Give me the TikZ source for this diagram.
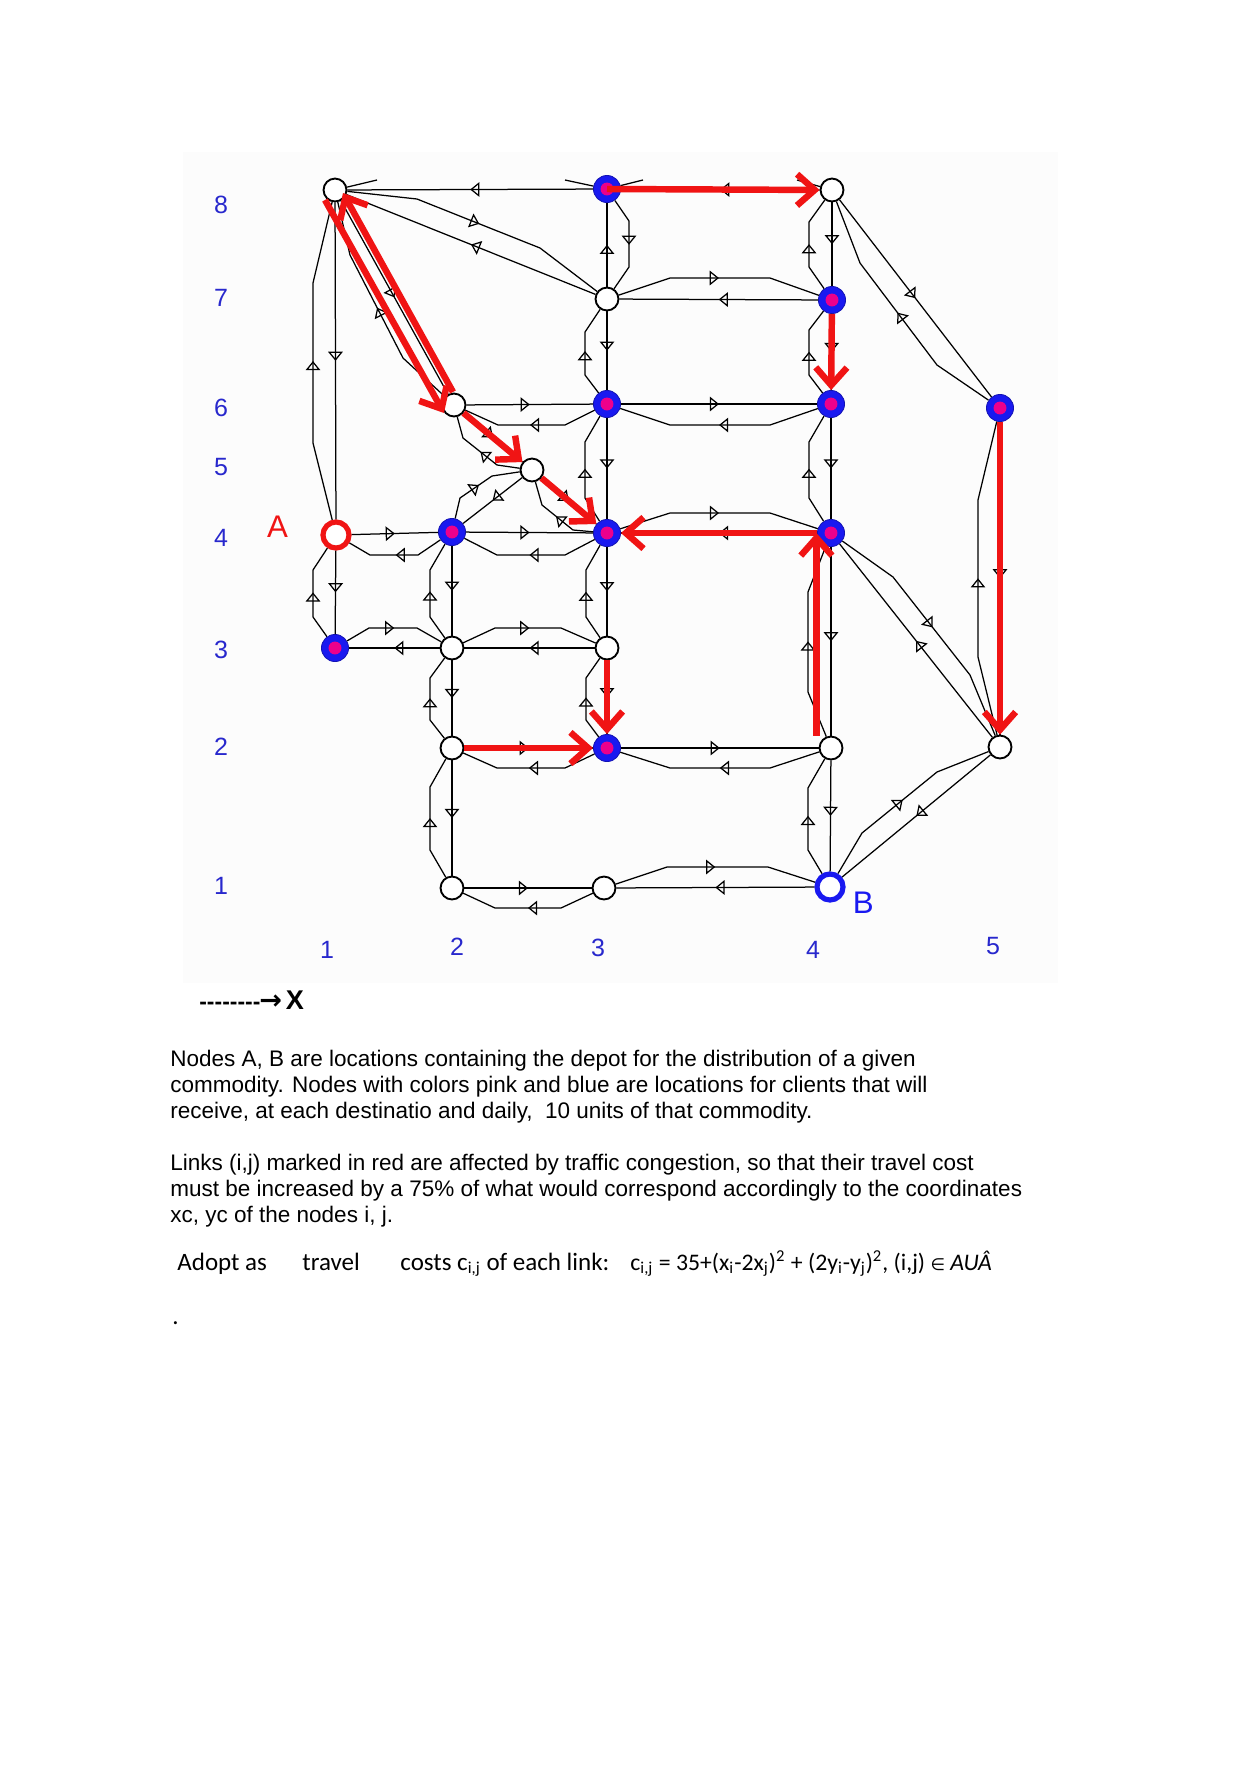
\documentclass[tikz,border=0pt]{standalone}
\usepackage{fontspec}
\setmainfont{Liberation Sans}
\newfontfamily\calib{Carlito}
\newfontfamily\dejavu{DejaVu Sans}
\usetikzlibrary{arrows.meta,decorations.markings,positioning}

\definecolor{axisblue}{RGB}{40,40,205}
\definecolor{nodeblue}{RGB}{25,25,240}
\definecolor{jamred}{RGB}{240,20,20}
\definecolor{paper}{RGB}{252,252,252}

\tikzset{
  road/.style={draw=black, line width=0.6pt, postaction={decorate},
    decoration={markings, mark=at position 0.5 with {\arrow{Triangle[open,length=4.4pt,width=7pt]}}}},
  stub/.style={draw=black, line width=0.6pt},
  plain/.style={circle, draw=black, line width=0.9pt, fill=white, minimum size=11pt, inner sep=0pt},
  client/.style={circle, fill=nodeblue, draw=nodeblue!75!black, line width=0.4pt, minimum size=13pt, inner sep=0pt,
    path picture={\fill[magenta] (path picture bounding box.center) circle (3.1pt);}},
  depot/.style={circle, draw=#1, line width=2.5pt, fill=white, minimum size=12.5pt, inner sep=0pt},
  jam/.style={draw=jamred, line width=3.1pt, -{Straight Barb[length=8.5pt,width=15pt]}},
  axis/.style={text=axisblue, font=\fontsize{12}{12}\selectfont},
  txt/.style={anchor=base west, inner sep=0pt, font=\fontsize{10.8}{12.5}\selectfont},
  ctxt/.style={anchor=base west, inner sep=0pt, font=\calib\fontsize{12}{14}\selectfont}
}

\begin{document}
\begin{tikzpicture}[x=0.48pt,y=-0.48pt]
\useasboundingbox (0,0) rectangle (1241,1766);
\fill[paper] (183,152) rectangle (1058,983);

% nodes
\node[plain]  (n18) at (335,190) {};
\node[client] (n38) at (607,189) {};
\node[plain]  (n48) at (832,190) {};
\node[plain]  (n37) at (607,299) {};
\node[client] (n47) at (832,300) {};
\node[plain]  (n26) at (454,405) {};
\node[client] (n36) at (607,404) {};
\node[client] (n46) at (831,404) {};
\node[client] (n56) at (1000,408) {};
\node[plain]  (mid5) at (532,470) {};
\node[depot=jamred] (A) at (336,535) {};
\node[client] (n24) at (452,532) {};
\node[client] (n34) at (607,533) {};
\node[client] (n44) at (831,533) {};
\node[client] (n13) at (335,648) {};
\node[plain]  (n23) at (452,648) {};
\node[plain]  (n33) at (607,648) {};
\node[plain]  (n22) at (452,748) {};
\node[client] (n32) at (607,748) {};
\node[plain]  (n42) at (831,748) {};
\node[plain]  (n52) at (1000,747) {};
\node[plain]  (n21) at (452,888) {};
\node[plain]  (n31) at (604,888) {};
\node[depot=nodeblue] (B) at (830,887) {};

\node[text=jamred, font=\fontsize{15}{15}\selectfont] (labA) [left=12pt of A, yshift=4pt] {A};
\node[text=nodeblue, font=\fontsize{15}{15}\selectfont] (labB) [right=0pt of B, yshift=-7.5pt] {B};

% axis numbers
\foreach \v/\yy in {8/205,7/298,6/408,5/467,4/538,3/650,2/747,1/886}
  \node[axis] (y\v) at (221,\yy) {\v};
\foreach \v/\xx/\yy in {1/327/950,2/457/947,3/598/948,4/813/950,5/993/946}
  \node[axis] (x\v) at (\xx,\yy) {\v};

% horizontal links
\path[road] (n38) -- (n18);
\path[road] (n48) -- (n38);
\path[road] (n37) -- (670,278) -- (770,278) -- (n47);
\path[road] (n47) -- (n37);
\path[road] (n26) -- (n36);
\path[road] (n36) -- (565,425) -- (498,425) -- (n26);
\path[road] (n36) -- (n46);
\path[road] (n46) -- (770,425) -- (670,425) -- (n36);
\path[road] (A) -- (n24);
\path[road] (n24) -- (418,555) -- (370,555) -- (A);
\path[road] (n24) -- (n34);
\path[road] (n34) -- (565,555) -- (497,555) -- (n24);
\path[road] (n34) -- (670,513) -- (770,513) -- (n44);
\path[road] (n44) -- (n34);
\path[road] (n13) -- (369,628) -- (417,628) -- (n23);
\path[road] (n23) -- (n13);
\path[road] (n23) -- (495,628) -- (561,628) -- (n33);
\path[road] (n33) -- (n23);
\path[road] (n22) -- (n32);
\path[road] (n32) -- (565,768) -- (497,768) -- (n22);
\path[road] (n32) -- (n42);
\path[road] (n42) -- (770,768) -- (670,768) -- (n32);
\path[road] (n21) -- (n31);
\path[road] (n31) -- (561,908) -- (495,908) -- (n21);
\path[road] (n31) -- (667,867) -- (768,867) -- (B);
\path[road] (B) -- (n31);

% vertical links
\path[road] (n18) -- (A);
\path[road] (A) -- (313,443) -- (313,283) -- (n18);
\path[road] (A) -- (n13);
\path[road] (n13) -- (313,617) -- (313,570) -- (A);
\path[road] (n24) -- (n23);
\path[road] (n23) -- (430,617) -- (430,570) -- (n24);
\path[road] (n23) -- (n22);
\path[road] (n22) -- (430,720) -- (430,678) -- (n23);
\path[road] (n22) -- (n21);
\path[road] (n21) -- (430,850) -- (430,787) -- (n22);
\path[road] (n37) -- (n38);
\path[road] (n38) -- (629,221) -- (629,267) -- (n37);
\path[road] (n37) -- (n36);
\path[road] (n36) -- (585,375) -- (585,332) -- (n37);
\path[road] (n36) -- (n34);
\path[road] (n34) -- (585,498) -- (585,442) -- (n36);
\path[road] (n34) -- (n33);
\path[road] (n33) -- (586,617) -- (586,570) -- (n34);
\path[road] (n33) -- (n32);
\path[road] (n32) -- (586,720) -- (586,678) -- (n33);
\path[road] (n48) -- (n47);
\path[road] (n47) -- (809,267) -- (809,222) -- (n48);
\path[road] (n47) -- (n46);
\path[road] (n46) -- (809,375) -- (809,330) -- (n47);
\path[road] (n46) -- (n44);
\path[road] (n44) -- (809,498) -- (809,442) -- (n46);
\path[road] (n44) -- (n42);
\path[road] (n42) -- (808,692) -- (808,592) -- (n44);
\path[road] (n42) -- (B);
\path[road] (B) -- (808,850) -- (808,788) -- (n42);
\path[road] (n56) -- (n52);
\path[road] (n52) -- (978,657) -- (978,500) -- (n56);

% diagonal links
\path[road] (n18) -- (417,199) -- (540,248) -- (n37);
\path[road] (n37) -- (n18);
\path[road] (n18) -- (n26);
\path[road] (n26) -- (403,358) -- (350,255) -- (n18);
\path[road] (n26) -- (mid5);
\path[road] (mid5) -- (497,465) -- (463,438) -- (n26);
\path[road] (n24) -- (460,498) -- (492,476) -- (mid5);
\path[road] (mid5) -- (n24);
\path[road] (mid5) -- (n34);
\path[road] (n34) -- (573,530) -- (542,505) -- (mid5);
\path[road] (n48) -- (n56);
\path[road] (n56) -- (937,365) -- (860,263) -- (n48);
\path[road] (n44) -- (893,577) -- (970,675) -- (n52);
\path[road] (n52) -- (n44);
\path[road] (B) -- (862,833) -- (937,772) -- (n52);
\path[road] (n52) -- (B);

% cut ends at the top
\path[stub] (n18) -- (377,180);
\path[stub] (n38) -- (565,180);
\path[stub] (n38) -- (643,180);
\path[stub] (n48) -- (797,180);

% congested links
\draw[jam] (n38.center) -- (n48);
\draw[jam] (n47) -- (n46);
\draw[jam] ([shift={(-10,10)}]n18.center) -- ([shift={(-10,8)}]n26.center);
\draw[jam] ([shift={(-1,-13)}]n26.center) -- ([shift={(8,3)}]n18.center);
\draw[jam] (n26) -- (mid5);
\draw[jam] (mid5) -- (n34);
\draw[jam] (n44) -- (n34);
\draw[jam] ([xshift=-7pt]n42.north) -- ([xshift=-7pt]n44.center);
\draw[jam] (n56) -- (n52);
\draw[jam] (n33) -- (n32);
\draw[jam] (n22) -- (n32);

% texts
\node[anchor=west, font=\bfseries\fontsize{11}{11}\selectfont] (xdir) at (192,1000)
  {-\kern0pt-\kern0pt-\kern0pt-\kern0pt-\kern0pt-\kern0pt-\kern0pt-\kern-0.5pt{\dejavu\fontsize{13}{13}\selectfont →}\,{\fontsize{13}{13}\selectfont X}};

\node[txt] (p11) at (170,1066) {Nodes A, B are locations containing the depot for the distribution of a given};
\node[txt] (p12) at (170,1092) {commodity. Nodes with colors pink and blue are locations for clients that will};
\node[txt] (p13) at (170,1118) {receive, at each destinatio and daily,\ \ 10 units of that commodity.};
\node[txt] (p21) at (170,1170) {Links (i,j) marked in red are affected by traffic congestion, so that their travel cost};
\node[txt] (p22) at (170,1196) {must be increased by a 75\% of what would correspond accordingly to the coordinates};
\node[txt] (p23) at (170,1222) {xc, yc of the nodes i, j.};

\node[ctxt] (c1) at (177,1270) {Adopt as};
\node[ctxt] (c2) at (302,1270) {travel};
\node[ctxt] (c3) at (400,1270) {costs c\textsubscript{i,j} of each link:};
\node[ctxt, font=\calib\fontsize{11.4}{14}\selectfont] (c4) at (630,1270) {c\textsubscript{i,j} = 35+(x\textsubscript{i}-2x\textsubscript{j})\textsuperscript{2} + (2y\textsubscript{i}-y\textsubscript{j})\textsuperscript{2}, (i,j) {\dejavu\fontsize{8}{8}\selectfont ∈} \textit{AUÂ}};
\node[ctxt] (dot) at (172,1324) {.};
\end{tikzpicture}
\end{document}
